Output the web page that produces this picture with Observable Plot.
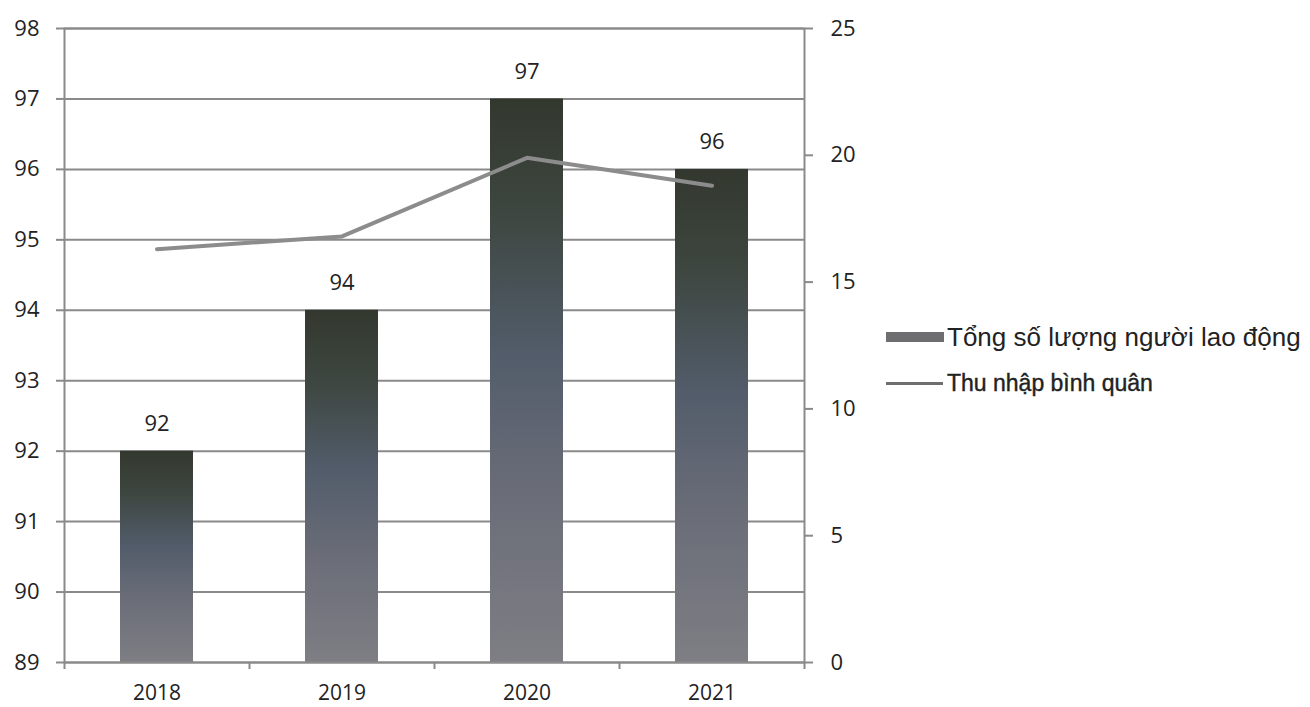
<!DOCTYPE html>
<html><head><meta charset="utf-8">
<script src="https://cdn.jsdelivr.net/npm/d3@7"></script>
<script src="https://cdn.jsdelivr.net/npm/@observablehq/plot@0.6"></script>
<style>
body{margin:0;background:#fff;}
#wrap{position:relative;width:1310px;height:707px;background:#fff;}
.leg{position:absolute;left:886px;display:flex;align-items:center;white-space:nowrap;font-family:"Liberation Sans",Arial,sans-serif;color:#222;line-height:1;}
</style></head><body>
<div id="wrap"></div>
<script>
const years = ["2018", "2019", "2020", "2021"];
const workers = [92, 94, 97, 96];
const income = [16.3, 16.8, 19.9, 18.8];
const leftTicks = [89, 90, 91, 92, 93, 94, 95, 96, 97, 98];
const rightTicks = [0, 5, 10, 15, 20, 25];
const seriesNames = ["Tổng số lượng người lao động", "Thu nhập bình quân"];

const yMin = 89, yMax = 98, rMax = 25;
const toLeft = v => yMin + v * (yMax - yMin) / rMax;
const fromLeft = d => Math.round((d - yMin) * rMax / (yMax - yMin));
const rows = years.map((y, i) => ({year: y, workers: workers[i], income: income[i], incomeL: toLeft(income[i])}));

const W = 1310, H = 707, ml = 64, mr = 506, mt = 28, mb = 45;
const step = (W - ml - mr) / years.length;
const barW = 73;
const gray = "#8a8a8a";
const font = "'Open Sans', sans-serif";

const chart = Plot.plot({
  width: W, height: H,
  marginLeft: ml, marginRight: mr, marginTop: mt, marginBottom: mb,
  style: {fontFamily: font, fontSize: "21px", color: "#222", background: "#fff"},
  x: {type: "band", domain: years, padding: 0, axis: null},
  y: {domain: [yMin, yMax], axis: null},
  marks: [
    Plot.ruleY(leftTicks, {stroke: gray, strokeWidth: 2}),
    Plot.barY(rows, {x: "year", y1: yMin, y2: "workers", fill: "url(#barGrad)",
      insetLeft: (step - barW) / 2, insetRight: (step - barW) / 2}),
    Plot.frame({stroke: gray, strokeWidth: 2}),
    Plot.ruleX(rows, {x: "year", y1: yMin, y2: yMin, dx: -step / 2, insetBottom: -7, stroke: gray, strokeWidth: 2}),
    Plot.ruleX(rows.slice(-1), {x: "year", y1: yMin, y2: yMin, dx: step / 2, insetBottom: -7, stroke: gray, strokeWidth: 2}),
    Plot.line(rows, {x: "year", y: "incomeL", stroke: "#8c8c8c", strokeWidth: 4}),
    Plot.text(rows, {x: "year", y: "workers", text: d => String(d.workers), dy: -27, fontSize: 22, fill: "#222"}),
    Plot.axisY(leftTicks, {anchor: "left", label: null, tickSize: 8, tickPadding: 17, tickFormat: d => String(d), stroke: gray, strokeWidth: 2, fill: "#222", fontSize: 22}),
    Plot.axisY(rightTicks.map(toLeft), {anchor: "right", label: null, tickSize: 8, tickPadding: 18, tickFormat: d => String(fromLeft(d)), stroke: gray, strokeWidth: 2, fill: "#222", fontSize: 22}),
    Plot.axisX({anchor: "bottom", label: null, tickSize: 0, tickPadding: 23, fill: "#222", fontSize: 21})
  ]
});

const defs = document.createElementNS("http://www.w3.org/2000/svg", "defs");
defs.innerHTML = `<linearGradient id="barGrad" x1="0" y1="0" x2="0" y2="1">
  <stop offset="0" stop-color="#33382f"/>
  <stop offset="0.2" stop-color="#3d463f"/>
  <stop offset="0.45" stop-color="#525c6a"/>
  <stop offset="0.7" stop-color="#6a6d78"/>
  <stop offset="1" stop-color="#7e7e84"/>
</linearGradient>`;
chart.insertBefore(defs, chart.firstChild);

const wrap = document.getElementById("wrap");
wrap.appendChild(chart);

const leg1 = document.createElement("div");
leg1.className = "leg";
leg1.style.top = "324px";
leg1.innerHTML = `<span style="display:inline-block;width:58px;height:10px;background:#6e6e70;margin-right:3px"></span><span style="font-size:26px">${seriesNames[0]}</span>`;
wrap.appendChild(leg1);

const leg2 = document.createElement("div");
leg2.className = "leg";
leg2.style.top = "372px";
leg2.innerHTML = `<span style="display:inline-block;width:57px;height:3px;background:#6e6e70;margin-right:4px"></span><span style="font-size:23px;-webkit-text-stroke:0.4px #222">${seriesNames[1]}</span>`;
wrap.appendChild(leg2);
</script>
</body></html>
